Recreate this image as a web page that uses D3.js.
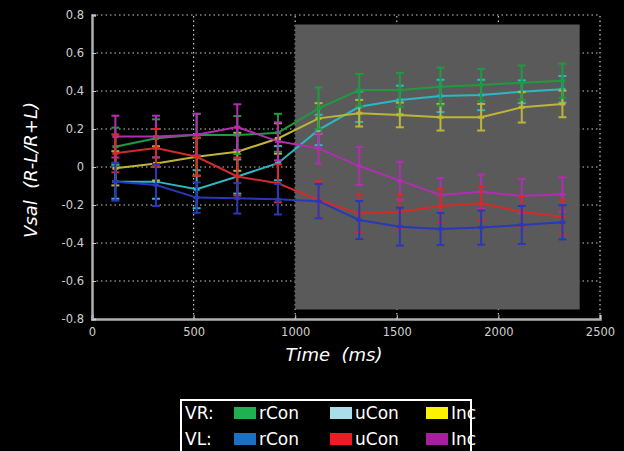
<!DOCTYPE html>
<html>
<head>
<meta charset="utf-8">
<script src="https://cdn.jsdelivr.net/npm/d3@7"></script>
<style>
  html, body { margin: 0; padding: 0; background: #000; }
  #chart { width: 624px; height: 451px; overflow: hidden; }
  text { font-family: "DejaVu Sans", sans-serif; }
</style>
</head>
<body>
<div id="chart"></div>
<script>
// --- Data ---
const times = [115, 315, 515, 715, 915, 1115, 1315, 1515, 1715, 1915, 2115, 2315];

const vrRcon = [0.107, 0.151, 0.17, 0.168, 0.18, 0.309, 0.405, 0.405, 0.423, 0.432, 0.444, 0.454];
const vrUcon = [-0.077, -0.077, -0.117, -0.05, 0.02, 0.195, 0.317, 0.353, 0.374, 0.379, 0.396, 0.409];
const vrInc = [-0.007, 0.019, 0.054, 0.08, 0.15, 0.256, 0.283, 0.274, 0.262, 0.262, 0.314, 0.332];
const vlRcon = [-0.077, -0.095, -0.161, -0.165, -0.17, -0.18, -0.279, -0.314, -0.326, -0.319, -0.305, -0.291];
const vlUcon = [0.072, 0.1, 0.054, -0.05, -0.086, -0.174, -0.244, -0.235, -0.205, -0.191, -0.235, -0.262];
const vlInc = [0.16, 0.16, 0.17, 0.21, 0.135, 0.098, 0.005, -0.072, -0.147, -0.13, -0.153, -0.144];

const vrRconErr = [0.1, 0.1, 0.11, 0.1, 0.1, 0.11, 0.085, 0.09, 0.1, 0.085, 0.09, 0.09];
const vrUconErr = [0.09, 0.09, 0.1, 0.09, 0.09, 0.08, 0.08, 0.075, 0.085, 0.08, 0.06, 0.07];
const vrIncErr = [0.09, 0.09, 0.1, 0.1, 0.08, 0.08, 0.07, 0.065, 0.07, 0.07, 0.08, 0.07];
const vlRconErr = [0.1, 0.11, 0.08, 0.08, 0.08, 0.09, 0.1, 0.1, 0.085, 0.09, 0.1, 0.09];
const vlUconErr = [0.1, 0.1, 0.1, 0.1, 0.1, 0.1, 0.1, 0.09, 0.09, 0.09, 0.08, 0.09];
const vlIncErr = [0.11, 0.11, 0.11, 0.12, 0.1, 0.08, 0.1, 0.1, 0.09, 0.09, 0.09, 0.09];

const xTicks = [0, 500, 1000, 1500, 2000, 2500];
const yTicks = [-0.8, -0.6, -0.4, -0.2, 0, 0.2, 0.4, 0.6, 0.8];
const stimWindow = [1000, 2400];
const stimRange = [-0.75, 0.75];

const series = [
  { name: "VR uCon", values: vrUcon, err: vrUconErr, line: "#2bb8c4" },
  { name: "VR Inc", values: vrInc, err: vrIncErr, line: "#bdb634" },
  { name: "VR rCon", values: vrRcon, err: vrRconErr, line: "#1f9a40" },
  { name: "VL Inc", values: vlInc, err: vlIncErr, line: "#b02eb0" },
  { name: "VL uCon", values: vlUcon, err: vlUconErr, line: "#d42a2a" },
  { name: "VL rCon", values: vlRcon, err: vlRconErr, line: "#2a38b8" },
];

const legendRows = ["VR:", "VL:"];
const legendItems = [
  [{ label: "rCon", color: "#1fb04f" }, { label: "uCon", color: "#a8dde9" }, { label: "Inc", color: "#fff200" }],
  [{ label: "rCon", color: "#1d6fc1" }, { label: "uCon", color: "#ed1c24" }, { label: "Inc", color: "#a6209c" }],
];

// --- SVG ---
const W = 624, H = 451;
const svg = d3.select("#chart").append("svg")
  .attr("width", W).attr("height", H)
  .style("background", "#000");

const x = d3.scaleLinear().domain([0, 2500]).range([92, 600]);
const y = d3.scaleLinear().domain([-0.8, 0.8]).range([319, 15]);

// grid (dotted)
const grid = svg.append("g").attr("stroke", "#c8c8c8").attr("stroke-width", 1.2)
  .attr("stroke-dasharray", "1.5,3");
grid.selectAll(".gy").data(yTicks.slice(1)).join("line")
  .attr("x1", x(0)).attr("x2", x(2500))
  .attr("y1", d => y(d)).attr("y2", d => y(d));
grid.selectAll(".gx").data(xTicks.slice(1)).join("line")
  .attr("x1", d => x(d)).attr("x2", d => x(d))
  .attr("y1", y(-0.8)).attr("y2", y(0.8));

// stimulus window
svg.append("rect")
  .attr("x", x(stimWindow[0])).attr("width", x(stimWindow[1]) - x(stimWindow[0]))
  .attr("y", y(stimRange[1])).attr("height", y(stimRange[0]) - y(stimRange[1]))
  .attr("fill", "#5a5a5a");

// axes
const xAxis = svg.append("g").attr("transform", `translate(0,${y(-0.8)})`)
  .call(d3.axisBottom(x).tickValues(xTicks).tickSize(-4).tickPadding(9).tickFormat(d3.format("d")));
const yAxis = svg.append("g").attr("transform", `translate(${x(0)},0)`)
  .call(d3.axisLeft(y).tickValues(yTicks).tickSize(-4).tickPadding(8)
    .tickFormat(d => d === 0 ? "0" : d3.format(".1f")(d).replace("\u2212", "-")));
[xAxis, yAxis].forEach(a => {
  a.select(".domain").attr("stroke", "#b0b0b0").attr("stroke-width", 2.5);
  a.selectAll(".tick line").attr("stroke", "#ccc");
  a.selectAll("text").attr("fill", "#d0d0d0").style("font-size", "11.5px");
});

// error bars and lines
const line = d3.line().x(d => x(d.t)).y(d => y(d.v));
series.forEach(s => {
  const pts = times.map((t, i) => ({ t, v: s.values[i], e: s.err[i] }));
  const g = svg.append("g").attr("stroke", s.line).attr("fill", "none");
  g.selectAll(".eb").data(pts).join("line")
    .attr("x1", d => x(d.t)).attr("x2", d => x(d.t))
    .attr("y1", d => y(d.v + d.e)).attr("y2", d => y(d.v - d.e))
    .attr("stroke-width", 2);
  g.selectAll(".ct").data(pts).join("line")
    .attr("x1", d => x(d.t) - 4).attr("x2", d => x(d.t) + 4)
    .attr("y1", d => y(d.v + d.e)).attr("y2", d => y(d.v + d.e))
    .attr("stroke-width", 2);
  g.selectAll(".cb").data(pts).join("line")
    .attr("x1", d => x(d.t) - 4).attr("x2", d => x(d.t) + 4)
    .attr("y1", d => y(d.v - d.e)).attr("y2", d => y(d.v - d.e))
    .attr("stroke-width", 2);
  g.selectAll(".mk").data(pts).join("line")
    .attr("x1", d => x(d.t) - 3).attr("x2", d => x(d.t) + 3)
    .attr("y1", d => y(d.v)).attr("y2", d => y(d.v))
    .attr("stroke-width", 3);
  g.append("path").datum(pts).attr("d", line).attr("stroke-width", 2);
});

// axis titles
svg.append("text")
  .attr("transform", `translate(37,170) rotate(-90)`)
  .attr("text-anchor", "middle").attr("fill", "#fff")
  .style("font-size", "18px").style("font-style", "italic")
  .style("white-space", "pre")
  .text("Vsal  (R-L/R+L)");
svg.append("text")
  .attr("x", 334).attr("y", 361)
  .attr("text-anchor", "middle").attr("fill", "#fff")
  .style("font-size", "18px").style("font-style", "italic")
  .style("white-space", "pre")
  .text("Time  (ms)");

// legend
const legend = svg.append("g");
legend.append("rect").attr("x", 181).attr("y", 400).attr("width", 290).attr("height", 60)
  .attr("fill", "#000").attr("stroke", "#fff").attr("stroke-width", 2);
legendRows.forEach((r, i) => {
  const ry = 413 + i * 26;
  legend.append("text").attr("x", 185).attr("y", ry + 6).attr("fill", "#fff")
    .style("font-size", "17px").text(r);
  legendItems[i].forEach((it, j) => {
    const sx = 234 + j * 96;
    legend.append("rect").attr("x", sx).attr("y", ry - 6).attr("width", 22).attr("height", 12)
      .attr("fill", it.color);
    legend.append("text").attr("x", sx + 25).attr("y", ry + 6).attr("fill", "#fff")
      .style("font-size", "17px").text(it.label);
  });
});
</script>
